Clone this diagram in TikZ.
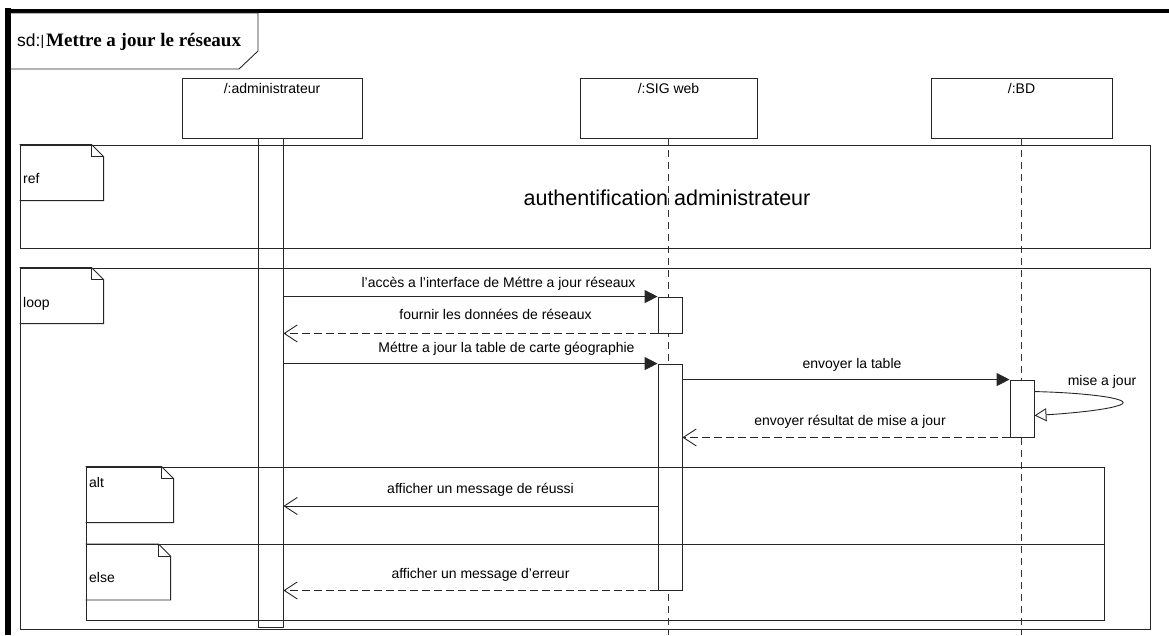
\documentclass[tikz,border=0pt]{standalone}
\usepackage{fontspec}
\setmainfont{Liberation Sans}
\newfontfamily\titlefont{Liberation Serif}
\usetikzlibrary{arrows.meta}
\begin{document}
\begin{tikzpicture}[x=1pt,y=-1pt,
  every node/.style={font=\fontsize{14}{16}\selectfont, inner sep=0pt},
  ln/.style={line width=0.9pt, draw=black!85},
  head/.style={ln, rectangle, minimum height=60pt},
  bar/.style={ln, rectangle, fill=white, minimum width=24pt},
  frag/.style={ln, rectangle},
  lifeline/.style={line width=0.9pt, draw=black!80, dash pattern=on 7pt off 5pt},
  call/.style={ln, -{Triangle[length=13pt,width=13pt]}},
  reply/.style={ln, dash pattern=on 8pt off 4pt, -{Straight Barb[length=13pt,width=17pt]}},
  sync/.style={ln, -{Straight Barb[length=13pt,width=17pt]}},
  self/.style={ln, -{Triangle[open,length=12pt,width=13pt,fill=white]}},
  lbl/.style={anchor=base},
  pics/fragtag/.style 2 args={code={
    \draw[ln] (0,0) -- (#1-12,0) -- (#1,12) -- (#1,#2) -- (0,#2);
    \draw[ln] (#1-12,0) -- (#1-12,12) -- (#1,12);
  }}
]
\useasboundingbox (0,0) rectangle (1169,635);
\coordinate (bottom) at (0,635);

% diagram frame and title tab
\draw[line width=4pt] (5,11) -- (1169,11);
\draw[line width=6pt] (8,8) -- (8,635);
\draw[ln] (10,13) -- (258,13) -- (258,51) -- (239,69) -- (10,69);
\node[anchor=base west] (title) at (17,46)
  {{\fontsize{17.5}{20}\selectfont sd:}\raisebox{1pt}{\fontsize{14}{16}\selectfont|}\kern2pt{\titlefont\bfseries\fontsize{19}{21}\selectfont Mettre a jour le réseaux}};

% lifeline heads
\node[head, minimum width=180pt] (admin) at (272,108) {};
\node[head, minimum width=177pt] (sig) at (668.5,108) {};
\node[head, minimum width=181pt] (bd) at (1021.5,108) {};
\node[lbl] (adminname) at (272,93) {/:administrateur};
\node[lbl] (signame) at (668.5,93) {/:SIG web};
\node[lbl] (bdname) at (1021.5,93) {/:BD};

% lifelines
\draw[lifeline] (sig.south) -- (sig.south |- bottom);
\draw[lifeline] (bd.south) -- (bd.south |- bottom);

% activation bars
\node[bar, minimum width=25pt, minimum height=489pt] (adminbar) at (270.5,382.5) {};
\node[bar, minimum height=36pt] (act1) at (670,315) {};
\node[bar, minimum height=226pt] (act2) at (670,477) {};
\node[bar, minimum height=57pt] (bdact) at (1022,408.5) {};

% combined fragments
\node[frag, minimum width=1130pt, minimum height=103pt] (ref) at (585,196.5) {};
\pic at (ref.north west) {fragtag={84}{56}};
\node[anchor=base west] (reftag) at (23,183) {ref};
\node[font=\fontsize{21.5}{24}\selectfont, anchor=base] (reftext) at (667,205) {authentification administrateur};

\node[frag, minimum width=1130pt, minimum height=361pt] (loop) at (585,448.5) {};
\pic at (loop.north west) {fragtag={84}{56}};
\node[anchor=base west] (looptag) at (23,307) {loop};

\node[frag, minimum width=1018pt, minimum height=153pt] (alt) at (595,543.5) {};
\coordinate (altsplit) at (595,544);
\draw[ln] (alt.west |- altsplit) -- (alt.east |- altsplit);
\pic at (alt.north west) {fragtag={88}{56}};
\pic at (alt.west |- altsplit) {fragtag={85}{56}};
\node[anchor=base west] (alttag) at (89,487) {alt};
\node[anchor=base west] (elsetag) at (89,582) {else};

% messages
\draw[call] (adminbar.east |- act1.north) -- (act1.north west)
  node[lbl, pos=0.5, yshift=9pt, xshift=28pt] {l'accès a l'interface de Méttre a jour réseaux};
\draw[reply] (act1.south west) -- (adminbar.east |- act1.south)
  node[lbl, pos=0.5, yshift=14pt, xshift=25pt] {fournir les données de réseaux};
\draw[call] (adminbar.east |- act2.north) -- (act2.north west)
  node[lbl, pos=0.5, yshift=11pt, xshift=36pt] {Méttre a jour la table de carte géographie};
\draw[call] (act2.east |- bdact.north) -- (bdact.north west)
  node[lbl, pos=0.5, yshift=11pt, xshift=6pt] {envoyer la table};
\draw[self] ([yshift=-12pt]bdact.north east) .. controls (1095,393) and (1140,400) .. (1117,406)
  .. controls (1100,411) and (1060,414) .. ([yshift=22pt]bdact.south east);
\node[lbl] (selfmsg) at (1102,385) {mise a jour};
\draw[reply] (bdact.south west) -- (act2.east |- bdact.south)
  node[lbl, pos=0.5, yshift=12pt, xshift=4pt] {envoyer résultat de mise a jour};
\coordinate (okmsg) at (669,506);
\draw[sync] (act2.west |- okmsg) -- (adminbar.east |- okmsg)
  node[lbl, pos=0.5, yshift=13pt, xshift=10pt] {afficher un message de réussi};
\draw[reply] (act2.south west) -- (adminbar.east |- act2.south)
  node[lbl, pos=0.5, yshift=12pt, xshift=10pt] {afficher un message d'erreur};
\end{tikzpicture}
\end{document}
